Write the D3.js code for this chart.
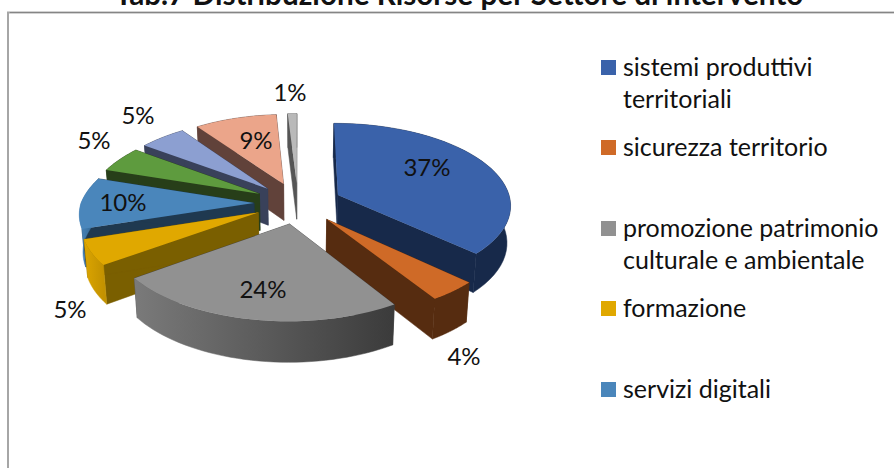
<!DOCTYPE html>
<html>
<head>
<meta charset="utf-8">
<script src="https://cdn.jsdelivr.net/npm/d3@7/dist/d3.min.js"></script>
<style>
html,body{margin:0;padding:0;background:#fff;overflow:hidden}
text{font-family:Lato,"Open Sans",sans-serif;fill:#111}
</style>
</head>
<body>
<svg id="chart" width="894" height="468"></svg>
<script>
// ---- data ----
const titleText = "Tab.7 Distribuzione Risorse per Settore di intervento";
const sliceValues = [37, 4, 24, 5, 10, 5, 5, 9, 1];
const sliceLabels = ["37%", "4%", "24%", "5%", "10%", "5%", "5%", "9%", "1%"];
const legendLines = [
  ["sistemi produttivi", "territoriali"],
  ["sicurezza territorio"],
  ["promozione patrimonio", "culturale e ambientale"],
  ["formazione"],
  ["servizi digitali"]
];

// ---- styles ----
const topColors  = ["#3a62aa", "#cf6a27", "#919191", "#e0a800", "#4a86bb", "#5e9b3e", "#8c9fd1", "#eba58a", "#b9b9b9"];
const wallColors = ["#17294a", "#562c10", "#3f3f3f", "#7a5f00", "#1f3950", "#273e19", "#39415a", "#61423a", "#555555"];
const rimFrom    = ["#17294a", "#562c10", "#7a7a7a", "#dca500", "#4a86bb", "#273e19", "#39415a", "#61423a", "#555555"];
const rimTo      = ["#17294a", "#562c10", "#3b3b3b", "#c39200", "#2e5f8a", "#273e19", "#39415a", "#61423a", "#555555"];

// ---- layout ----
const cx = 298, cy = 203, radius = 173, explode = 44;
const tilt = 0.47, persp = 0.00065, farLeftPersp = 0.00019, thickness = 37, sink = 0.983;
const drawOrder = [8, 7, 6, 5, 4, 3, 0, 1, 2];
const labelCentres = [[427,166.5],[464,355.5],[263,288.5],[70,308.5],[123,201.5],[94,139.5],[138,114.5],[256,139.5],[290,91.5]];
const legendTops = [60, 140, 221, 301, 382];

const svg = d3.select("#chart");
const defs = svg.append("defs");

// the title sits against the top of the picture, as in the reference
svg.append("text")
  .attr("x", 459).attr("y", 5)
  .attr("text-anchor", "middle")
  .attr("font-size", 29.7).attr("font-weight", 700)
  .text(titleText);

// frame
svg.append("path")
  .attr("d", d3.line()([[8, 468], [8, 12.5], [894, 12.5]]))
  .attr("fill", "none").attr("stroke", "#a6a6a6").attr("stroke-width", 2);
svg.append("line").attr("x1", 10).attr("x2", 894).attr("y1", 12.5).attr("y2", 12.5)
  .attr("stroke", "#858585").attr("stroke-width", 1);

// pie geometry from d3.pie
const arcs = d3.pie().sort(null).value(d => d).startAngle(0).endAngle(2 * Math.PI)(sliceValues);

function scaleAt(Z) { return 1 / (1 - persp * Z); }
function topPoint(X, Z) {
  const s = scaleAt(Z);
  const xs = (X < 0 && Z < 0) ? s * (1 + farLeftPersp * Z) : s;
  return [cx + X * xs, cy + tilt * Z * s];
}
function bottomPoint(X, Z) {
  const s = scaleAt(Z);
  const p = topPoint(X, Z);
  return [cx + (p[0] - cx) * sink, cy + (p[1] - cy) * sink + thickness * s];
}

const line = d3.line();
const pieG = svg.append("g");

drawOrder.forEach(i => {
  const a = arcs[i];
  const mid = (a.startAngle + a.endAngle) / 2;
  const ax = explode * Math.sin(mid), az = -explode * Math.cos(mid);
  const steps = d3.range(0, 41).map(t => a.startAngle + (a.endAngle - a.startAngle) * t / 40);
  const outer = steps.map(t => [ax + radius * Math.sin(t), az - radius * Math.cos(t)]);
  const topArc = outer.map(p => topPoint(p[0], p[1]));
  const botArc = outer.map(p => bottomPoint(p[0], p[1]));
  const apexT = topPoint(ax, az), apexB = bottomPoint(ax, az);
  const g = pieG.append("g");

  // radial walls
  [[topArc[0], botArc[0]], [topArc[40], botArc[40]]].forEach(e => {
    g.append("path")
      .attr("d", line([apexT, e[0], e[1], apexB]) + "Z")
      .attr("fill", wallColors[i])
      .attr("stroke", wallColors[i]).attr("stroke-width", 0.5);
  });

  // rim, shaded from left to right
  const gid = "rim" + i;
  const xs = topArc.map(p => p[0]);
  const grad = defs.append("linearGradient").attr("id", gid)
    .attr("gradientUnits", "userSpaceOnUse")
    .attr("x1", d3.min(xs)).attr("x2", d3.max(xs)).attr("y1", 0).attr("y2", 0);
  grad.append("stop").attr("offset", 0).attr("stop-color", rimFrom[i]);
  grad.append("stop").attr("offset", 1).attr("stop-color", rimTo[i]);
  g.append("path")
    .attr("d", line(topArc.concat(botArc.slice().reverse())) + "Z")
    .attr("fill", `url(#${gid})`)
    .attr("stroke", `url(#${gid})`).attr("stroke-width", 0.5);

  // top face
  g.append("path")
    .attr("d", line([apexT].concat(topArc)) + "Z")
    .attr("fill", topColors[i]);
});

// percent labels
svg.append("g").selectAll("text").data(sliceLabels).join("text")
  .attr("x", (d, i) => labelCentres[i][0])
  .attr("y", (d, i) => labelCentres[i][1])
  .attr("text-anchor", "middle").attr("dominant-baseline", "central")
  .attr("font-size", 24)
  .text(d => d);

// legend
const legend = svg.append("g");
legendLines.forEach((lines, i) => {
  legend.append("rect")
    .attr("x", 601).attr("y", legendTops[i])
    .attr("width", 15).attr("height", 15)
    .attr("fill", topColors[i]);
  lines.forEach((t, j) => {
    legend.append("text")
      .attr("x", 623).attr("y", legendTops[i] + 15.5 + j * 32.5)
      .attr("font-size", 25)
      .text(t);
  });
});
</script>
</body>
</html>
